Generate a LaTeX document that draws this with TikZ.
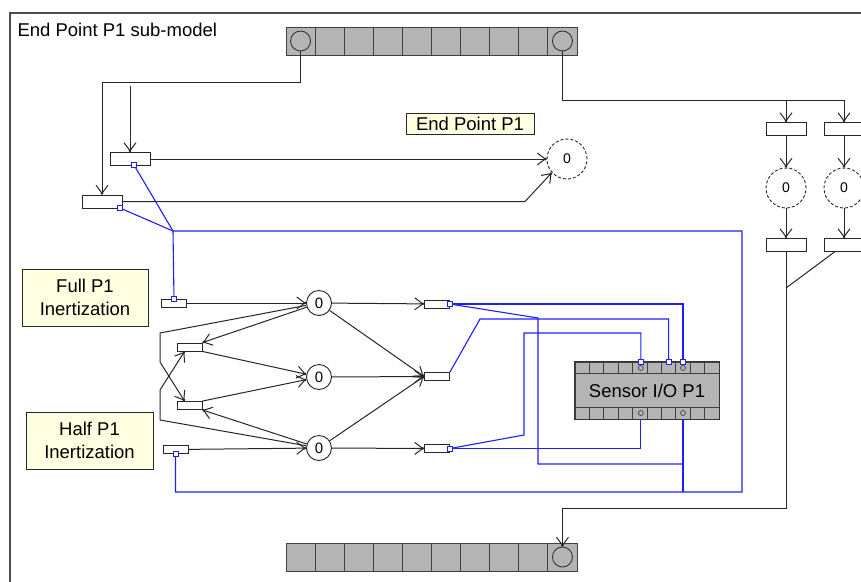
\documentclass[tikz,border=0pt]{standalone}
\usepackage{fontspec}
\setmainfont{Liberation Sans}
\usetikzlibrary{arrows.meta,positioning,calc}
\definecolor{cellgray}{RGB}{180,180,180}
\definecolor{notebg}{RGB}{255,255,225}
\definecolor{wireblue}{RGB}{30,30,255}

\begin{document}
\begin{tikzpicture}[x=1pt,y=-1pt,
    font=\fontsize{18.5}{23}\selectfont,
    arc/.style={draw=black!85,line width=1pt,-{Straight Barb[length=8pt,width=12pt,sep=-2pt]Circle[length=2.5pt]}},
    flat/.style={draw=black!85,line width=1pt},
    wire/.style={draw=wireblue,line width=1.1pt},
    trans/.style={draw=black!85,fill=white,line width=0.9pt,inner sep=0pt,minimum width=25pt,minimum height=8pt},
    bigtrans/.style={trans,minimum width=40pt,minimum height=13pt},
    place/.style={circle,draw=black!85,fill=white,line width=0.9pt,inner sep=0pt,minimum size=25pt,font=\fontsize{15}{15}\selectfont},
    endplace/.style={place,dash pattern=on 3pt off 2pt,minimum size=40pt,font=\fontsize{14}{14}\selectfont},
    note/.style={draw=black!85,fill=notebg,line width=0.9pt,align=center,inner sep=0pt},
    cell/.style={draw=black!75,fill=cellgray,line width=0.9pt,inner sep=0pt,minimum width=29.1pt,minimum height=28pt},
    hole/.style={circle,draw=black!80,line width=0.9pt,inner sep=0pt,minimum size=20pt},
    port/.style={draw=wireblue,fill=white,line width=0.8pt,inner sep=0pt,minimum size=5pt},
    pin/.style={circle,draw=black!80,line width=0.6pt,inner sep=0pt,minimum size=5pt}]
  \useasboundingbox (0,0) rectangle (861,581);
  \clip (0,0) rectangle (861,581);
  \draw[black!70,line width=1.5pt] (10,13) rectangle (900,620);
  \node[anchor=base west] (title) at (14,36.5) {End Point P1 sub-model};

  \foreach \i in {1,...,10} {
    \node[cell] (top\i) at ({300.55+(\i-1)*29.1},41) {};
    \node[cell] (bot\i) at ({300.55+(\i-1)*29.1},557) {};
  }
  \node[hole] (topin) at (top1) {};
  \node[hole] (topout) at (top10) {};
  \node[hole] (botin) at (bot10) {};

  \node[bigtrans] (T1) at (130,159) {};
  \node[bigtrans] (T2) at (102,201.5) {};
  \node[endplace] (PE) at (567,159) {0};
  \node[note,minimum width=128pt,minimum height=21pt] (endlbl) at (470,123.5) {End Point P1};

  \node[bigtrans] (T3) at (786,129) {};
  \node[bigtrans] (T4) at (844,129) {};
  \node[endplace] (PR1) at (786,188) {0};
  \node[endplace] (PR2) at (844,188) {0};
  \node[bigtrans] (T5) at (786,245) {};
  \node[bigtrans] (T6) at (844,245) {};

  \node[note,minimum width=126pt,minimum height=57pt] (full) at (85,297.5) {Full P1\\Inertization};
  \node[note,minimum width=127pt,minimum height=57pt] (half) at (89.5,440.5) {Half P1\\Inertization};

  \node[trans] (TA) at (174,303) {};
  \node[trans] (TB) at (175.5,449.5) {};
  \node[trans] (TC) at (189.5,347) {};
  \node[trans] (TD) at (189.5,405.5) {};
  \node[place] (P1) at (319,303) {0};
  \node[place] (P2) at (319,377) {0};
  \node[place] (P3) at (319,448) {0};
  \node[trans] (TE) at (437,304) {};
  \node[trans] (TF) at (437,376.5) {};
  \node[trans] (TG) at (437,448.5) {};

  \node[cell,minimum width=144pt,minimum height=57pt,font=\fontsize{18.5}{20}\selectfont] (sensor) at (647,390.5) {Sensor I/O P1};
  \foreach \i in {0,...,9} {
    \draw[black!75,line width=0.9pt,fill=cellgray] (575+\i*14.4,362) rectangle ++(14.4,11);
    \draw[black!75,line width=0.9pt,fill=cellgray] (575+\i*14.4,407) rectangle ++(14.4,12);
  }
  \draw[black!80,line width=1pt] (sensor.south west) rectangle (sensor.north east);
  \node[pin] (pin1) at (640.8,368) {};
  \node[pin] (pin2) at (683,368) {};
  \node[pin] (pin3) at (640.8,413) {};
  \node[pin] (pin4) at (683,413) {};

  \draw[arc] (topin.south) -- ++(0,31) -| (T2.north);
  \draw[arc] (T1.north |- 0,86) -- (T1.north);
  \draw[arc] (T1.east) -- (PE);
  \draw[arc] (T2.east) -- (525,201.5) -- (PE.222);

  \draw[arc] (topout.south) |- (T4.north |- 0,100) -- (T4.north);
  \draw[arc] (T3.north |- 0,100) -- (T3.north);
  \draw[arc] (T3) -- (PR1);
  \draw[arc] (T4) -- (PR2);
  \draw[arc] (PR1) -- (T5);
  \draw[arc] (PR2) -- (T6);
  \draw[arc] (T5.south) |- (botin.north |- 0,508) -- (botin.north);
  \draw[flat] ($(T6.south west)+(11,0)$) -- (T5.south |- 0,288);

  \draw[arc] (TA) -- (P1);
  \draw[arc] (TB) -- (P3);
  \draw[arc] (P1) -- (TE);
  \draw[arc] (P3) -- (TG);
  \draw[arc] (P2) -- (TF);
  \draw[arc] (P1) -- (TF.west);
  \draw[arc] (P3) -- (TF.west);
  \draw[arc] (P1) -- (TC.north east);
  \draw[arc] (TC.south east) -- (P2);
  \draw[arc] (TD.north east) -- (P2);
  \draw[arc] (P3) -- (TD.south east);
  \draw[arc] (P1) -- (160,333) -- (160,362) -- ($(TD.north west)+(8,0)$);
  \draw[arc] (P3) -- (160,420) -- (160,390) -- ($(TC.south west)+(8,0)$);

  \node[port] (pT1) at (134,165) {};
  \node[port] (pT2) at (120,208) {};
  \node[port] (pTA) at (TA.north) {};
  \node[port] (pTB) at (TB.south) {};
  \node[port] (pTE) at (TE.east) {};
  \node[port] (pTG) at (TG.east) {};
  \node[port] (s1) at (640.8,362) {};
  \node[port] (s2) at (668.6,362) {};
  \node[port] (s3) at (683,362) {};
  \coordinate (J) at (173,231);

  \draw[wire] (pT1) -- (J) -- (pTA);
  \draw[wire] (pT2) -- (J) -| (742,492) -| (pTB);
  \draw[wire] (pTE) -| (s3);
  \draw[wire] (pTE) -- (538,318) |- (683,464);
  \draw[wire] (sensor.south -| s3) -- (683,492);
  \draw[wire] (TF.north east) -- (480,319) -| (s2);
  \draw[wire] (pTG) -- (524,435) -- (524,333) -| (s1);
  \draw[wire] (pTG) -| (sensor.south -| s1);
\end{tikzpicture}
\end{document}
